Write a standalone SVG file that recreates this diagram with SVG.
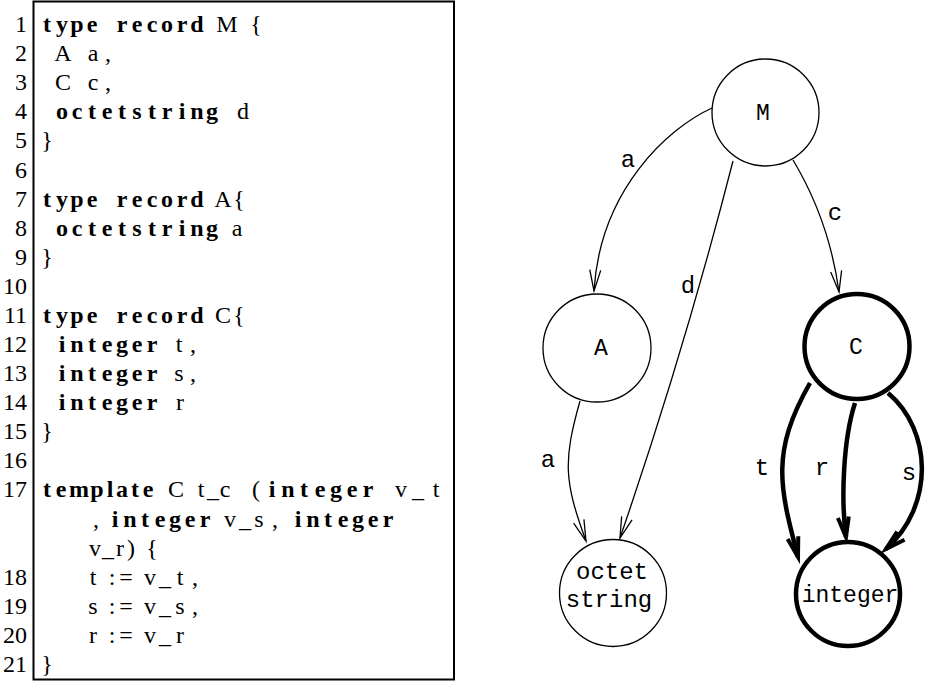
<svg xmlns="http://www.w3.org/2000/svg" width="925" height="690" viewBox="0 0 925 690">
  <style>
    .code { font-family: "Liberation Serif", "DejaVu Serif", serif; font-size: 24px; text-anchor: middle; fill: #000; }
    .kw { font-weight: bold; }
    .ln { font-family: "Liberation Serif", "DejaVu Serif", serif; font-size: 24px; text-anchor: end; fill: #000; }
    .frame { fill: none; stroke: #000; stroke-width: 2; }
    .node circle { fill: #fff; stroke: #000; stroke-width: 1.3; }
    .node.heavy circle { stroke-width: 4.5; }
    .nlbl { font-family: "Liberation Mono", "Courier New", monospace; font-size: 23px; text-anchor: middle; fill: #000; }
    .big { font-size: 24px; }
    .elbl { font-family: "Liberation Mono", "Courier New", monospace; font-size: 24px; text-anchor: middle; fill: #000; }
    .edge { fill: none; stroke: #000; stroke-width: 1.3; marker-end: url(#vee); }
    .edge.heavy { stroke-width: 4.5; marker-end: url(#vee-heavy); }
  </style>
  <defs>
    <marker id="vee" markerUnits="userSpaceOnUse" viewBox="-26 -10 30 20" markerWidth="30" markerHeight="20" refX="0" refY="0" orient="auto" overflow="visible">
      <path d="M-21,-5.5 L0,0 L-21,5.5" fill="none" stroke="#000" stroke-width="1.3"/>
    </marker>
    <marker id="vee-heavy" markerUnits="userSpaceOnUse" viewBox="-26 -10 30 20" markerWidth="30" markerHeight="20" refX="0" refY="0" orient="auto" overflow="visible">
      <path d="M-20,-5.5 L0,0 L-20,5.5" fill="none" stroke="#000" stroke-width="4" stroke-linejoin="miter"/>
    </marker>
  </defs>

  <!-- source listing -->
  <g id="listing">
    <rect class="frame" x="33.5" y="1.5" width="420.5" height="678"/>
    <g id="line-numbers" class="ln">
      <text x="27" y="32">1</text>
      <text x="27" y="61.1">2</text>
      <text x="27" y="90.2">3</text>
      <text x="27" y="119.3">4</text>
      <text x="27" y="148.4">5</text>
      <text x="27" y="177.5">6</text>
      <text x="27" y="206.5">7</text>
      <text x="27" y="235.6">8</text>
      <text x="27" y="264.7">9</text>
      <text x="27" y="293.8">10</text>
      <text x="27" y="322.9">11</text>
      <text x="27" y="352">12</text>
      <text x="27" y="381.1">13</text>
      <text x="27" y="410.2">14</text>
      <text x="27" y="439.3">15</text>
      <text x="27" y="468.4">16</text>
      <text x="27" y="497.4">17</text>
      <text x="27" y="584.7">18</text>
      <text x="27" y="613.8">19</text>
      <text x="27" y="642.9">20</text>
      <text x="27" y="672">21</text>
    </g>
    <g id="code-lines" class="code">
      <text y="32"><tspan class="kw" x="47 62 77 92">type</tspan><tspan class="kw" x="122 137 152 167 182 197">record</tspan><tspan x="227">M</tspan><tspan x="256">{</tspan></text>
      <text y="61.1"><tspan x="63">A</tspan><tspan x="93 108">a,</tspan></text>
      <text y="90.2"><tspan x="63">C</tspan><tspan x="93 108">c,</tspan></text>
      <text y="119.3"><tspan class="kw" x="62 77 92 107 122 137 152 167 182 197 212">octetstring</tspan><tspan x="243">d</tspan></text>
      <text y="148.4" x="47">}</text>
      <text y="206.5"><tspan class="kw" x="47 62 77 92">type</tspan><tspan class="kw" x="122 137 152 167 182 197">record</tspan><tspan x="223 239">A{</tspan></text>
      <text y="235.6"><tspan class="kw" x="62 77 92 107 122 137 152 167 182 197 212">octetstring</tspan><tspan x="237">a</tspan></text>
      <text y="264.7" x="47">}</text>
      <text y="322.9"><tspan class="kw" x="47 62 77 92">type</tspan><tspan class="kw" x="122 137 152 167 182 197">record</tspan><tspan x="223 239">C{</tspan></text>
      <text y="352"><tspan class="kw" x="62 77 92 107 122 137 152">integer</tspan><tspan x="179 193">t,</tspan></text>
      <text y="381.1"><tspan class="kw" x="62 77 92 107 122 137 152">integer</tspan><tspan x="179 193">s,</tspan></text>
      <text y="410.2"><tspan class="kw" x="62 77 92 107 122 137 152">integer</tspan><tspan x="180">r</tspan></text>
      <text y="439.3" x="47">}</text>
      <text y="497.4"><tspan class="kw" x="47 61 79 97 110 122 135 148">template</tspan><tspan x="176">C</tspan><tspan x="201 213 225">t_c</tspan><tspan x="256">(</tspan><tspan class="kw" x="272 288 304 320 336 352 368">integer</tspan><tspan x="401 418 436">v_t</tspan></text>
      <text y="526.5"><tspan x="96">,</tspan><tspan class="kw" x="115 130 145 160 175 190 205">integer</tspan><tspan x="230 245 259 275">v_s,</tspan><tspan class="kw" x="298 313 328 343 358 373 388">integer</tspan></text>
      <text y="555.6"><tspan x="95 108 120 131">v_r)</tspan><tspan x="152">{</tspan></text>
      <text y="584.7"><tspan x="93">t</tspan><tspan x="112 126">:=</tspan><tspan x="150 165 180 195">v_t,</tspan></text>
      <text y="613.8"><tspan x="93">s</tspan><tspan x="112 126">:=</tspan><tspan x="150 165 180 195">v_s,</tspan></text>
      <text y="642.9"><tspan x="93">r</tspan><tspan x="112 126">:=</tspan><tspan x="150 165 180">v_r</tspan></text>
      <text y="672" x="47">}</text>
    </g>
  </g>

  <!-- type graph: edges -->
  <g id="edges">
    <g id="e-M-A">
      <path class="edge" d="M712,108 C668,128 600,190 594,291"/>
      <text class="elbl" x="628" y="167">a</text>
    </g>
    <g id="e-M-octet">
      <path class="edge" d="M733,161 C701,286 663,413 620,538"/>
      <text class="elbl" x="688" y="293">d</text>
    </g>
    <g id="e-M-C">
      <path class="edge" d="M793,160 C820,205 833,248 839,292"/>
      <text class="elbl" x="835" y="220">c</text>
    </g>
    <g id="e-A-octet">
      <path class="edge" d="M580,401 C563,461 564,481 586,541"/>
      <text class="elbl" x="548" y="467">a</text>
    </g>
    <g id="e-C-integer-t">
      <path class="edge heavy" d="M810,383 C770,453 780,488 798,557"/>
      <text class="elbl" x="762" y="475">t</text>
    </g>
    <g id="e-C-integer-r">
      <path class="edge heavy" d="M855,403 C843,440 841,500 846,537"/>
      <text class="elbl" x="822" y="475">r</text>
    </g>
    <g id="e-C-integer-s">
      <path class="edge heavy" d="M888,393 C932,430 935,505 886,549"/>
      <text class="elbl" x="909" y="480">s</text>
    </g>
  </g>

  <!-- type graph: nodes -->
  <g id="node-M" class="node">
    <circle cx="765.5" cy="112.5" r="53.5"/>
    <text class="nlbl" x="763" y="120">M</text>
  </g>
  <g id="node-A" class="node">
    <circle cx="597" cy="348" r="54"/>
    <text class="nlbl" x="601" y="355">A</text>
  </g>
  <g id="node-C" class="node heavy">
    <circle cx="857" cy="346.5" r="52.5"/>
    <text class="nlbl" x="856" y="354">C</text>
  </g>
  <g id="node-octetstring" class="node">
    <circle cx="613" cy="593" r="53.5"/>
    <text class="nlbl big" x="612" y="579">octet</text>
    <text class="nlbl big" x="609" y="607">string</text>
  </g>
  <g id="node-integer" class="node heavy">
    <circle cx="848" cy="594" r="52"/>
    <text class="nlbl" x="850" y="602">integer</text>
  </g>
</svg>
